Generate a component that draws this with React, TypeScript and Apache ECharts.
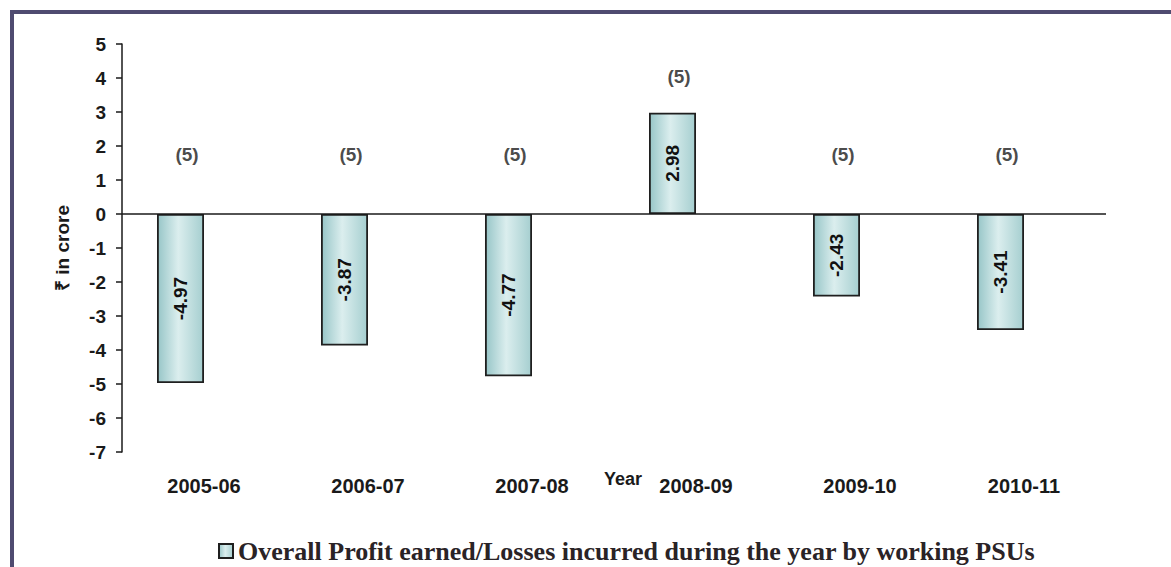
import React, { useEffect, useRef } from "react";
import * as echarts from "echarts";

const categories = ["2005-06", "2006-07", "2007-08", "2008-09", "2009-10", "2010-11"];
const profitValues = [-4.97, -3.87, -4.77, 2.98, -2.43, -3.41];
const spacerValues = [null, null, null, null, null, null];
const psuCounts = [5, 5, 5, 5, 5, 5];
const countLabelY = [1.75, 1.75, 1.75, 4.05, 1.75, 1.75];
const yTicks = { min: -7, max: 5, step: 1 };
const seriesName = "Overall Profit earned/Losses incurred during the year by working PSUs";

const SANS = "Liberation Sans, Arial, sans-serif";

export default function App() {
  const ref = useRef<HTMLDivElement>(null);
  useEffect(() => {
    if (!ref.current) return;
    const chart = echarts.init(ref.current, null, { renderer: "svg" });
    const barFill = new echarts.graphic.LinearGradient(0, 0, 1, 0, [
      { offset: 0, color: "#98c6c8" },
      { offset: 0.45, color: "#dbeeee" },
      { offset: 1, color: "#a6cfd0" },
    ]);
    chart.setOption({
      animation: false,
      backgroundColor: "#ffffff",
      textStyle: { fontFamily: SANS },
      grid: { left: 122, right: 65, top: 44, bottom: 115 },
      graphic: [
        {
          type: "rect",
          shape: { x: 12, y: 12, width: 1300, height: 700 },
          style: { fill: "none", stroke: "#4f4b70", lineWidth: 4 },
          silent: true,
        },
        {
          type: "text",
          x: 623,
          y: 479,
          style: {
            text: "Year",
            fill: "#1a1a1a",
            font: "bold 18px " + SANS,
            align: "center",
            verticalAlign: "middle",
          },
        },
      ],
      legend: {
        data: [seriesName],
        left: 213,
        top: 533,
        itemWidth: 14,
        itemHeight: 14,
        icon: "rect",
        selectedMode: false,
        textStyle: {
          fontFamily: "Liberation Serif, Times New Roman, serif",
          fontWeight: "bold",
          fontSize: 26,
          color: "#2a2326",
        },
      },
      xAxis: {
        type: "category",
        data: categories,
        axisLine: { show: false, onZero: false },
        axisTick: { show: false },
        axisLabel: {
          margin: 24,
          color: "#1a1a1a",
          fontWeight: "bold",
          fontSize: 20,
          fontFamily: SANS,
        },
      },
      yAxis: {
        type: "value",
        min: yTicks.min,
        max: yTicks.max,
        interval: yTicks.step,
        name: "₹ in crore",
        nameLocation: "middle",
        nameGap: 50,
        nameRotate: 90,
        nameTextStyle: {
          color: "#1a1a1a",
          fontWeight: "bold",
          fontSize: 19,
          fontFamily: SANS,
        },
        axisLine: { show: true, lineStyle: { color: "#1a1a1a", width: 1.5 } },
        axisTick: { show: true, length: 6, lineStyle: { color: "#1a1a1a", width: 1.5 } },
        splitLine: { show: false },
        axisLabel: {
          margin: 16,
          color: "#1a1a1a",
          fontWeight: "bold",
          fontSize: 19,
          fontFamily: SANS,
        },
      },
      series: [
        {
          name: seriesName,
          type: "bar",
          data: profitValues,
          barWidth: 47,
          barGap: "0%",
          itemStyle: { color: barFill, borderColor: "#1f1f1f", borderWidth: 1.8 },
          label: {
            show: true,
            position: "inside",
            rotate: 90,
            color: "#111111",
            fontWeight: "bold",
            fontSize: 19,
            fontFamily: SANS,
          },
          markLine: {
            silent: true,
            symbol: "none",
            label: { show: false },
            lineStyle: { color: "#1a1a1a", width: 1.5, type: "solid" },
            data: [{ yAxis: 0 }],
          },
          z: 3,
        },
        {
          name: "spacer",
          type: "bar",
          data: spacerValues,
          barWidth: 47,
          barGap: "0%",
          silent: true,
        },
        {
          name: "counts",
          type: "scatter",
          data: countLabelY.map((y, i) => ({ value: [categories[i], y], count: psuCounts[i] })),
          symbolSize: 1,
          itemStyle: { color: "rgba(0,0,0,0)" },
          label: {
            show: true,
            position: "inside",
            offset: [-17, 0],
            formatter: (p: any) => "(" + p.data.count + ")",
            color: "#1a1a1a",
            fontWeight: "bold",
            fontSize: 19,
            fontFamily: SANS,
          },
          silent: true,
        },
      ],
    });
    return () => chart.dispose();
  }, []);
  return (
    <div
      ref={ref}
      style={{ position: "fixed", left: 0, top: 0, width: 1171, height: 567 }}
    />
  );
}
